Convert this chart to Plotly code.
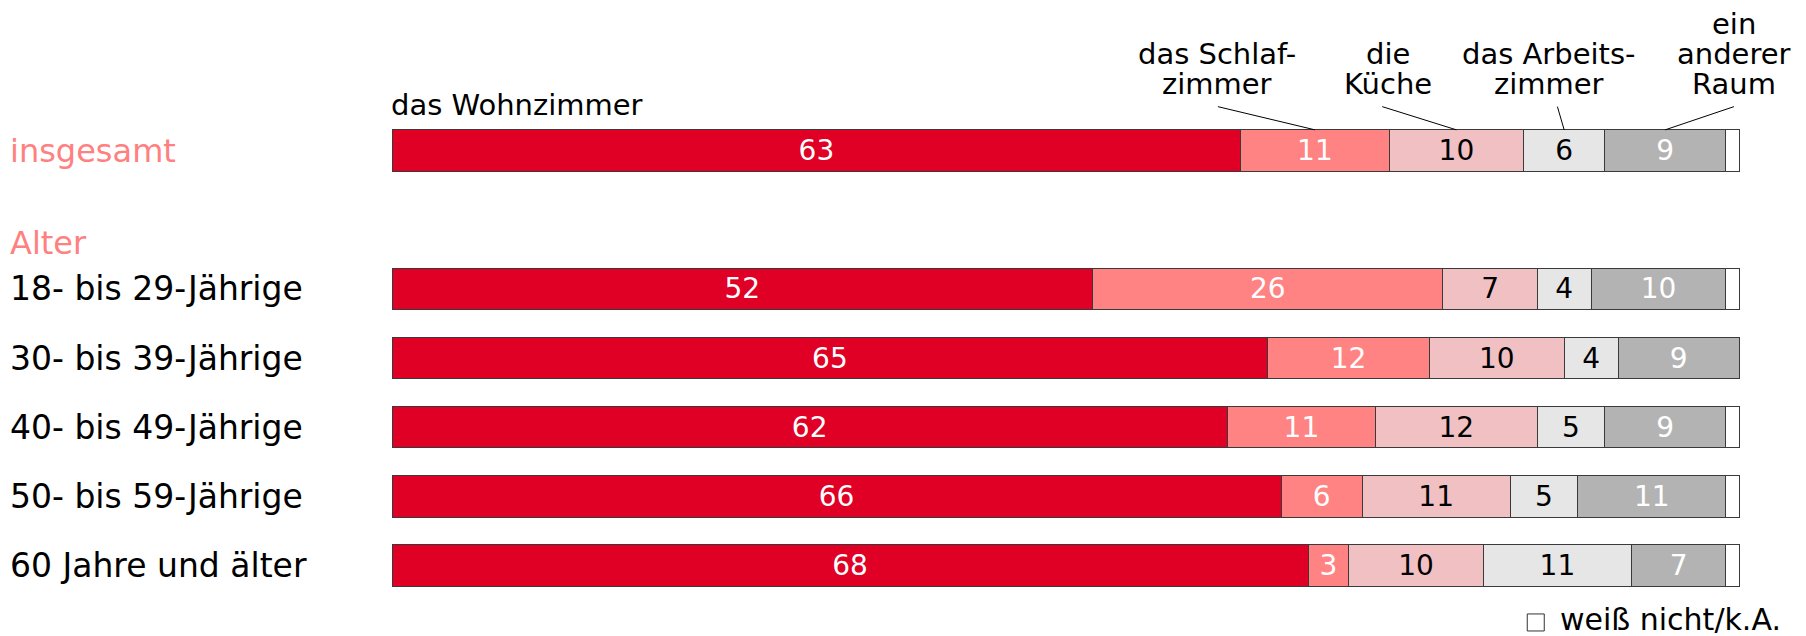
import plotly.graph_objects as go

# ---------------- data ----------------
categories = ["insgesamt", "18- bis 29-Jährige", "30- bis 39-Jährige",
              "40- bis 49-Jährige", "50- bis 59-Jährige", "60 Jahre und älter"]
wohnzimmer   = [63, 52, 65, 62, 66, 68]
schlafzimmer = [11, 26, 12, 11, 6, 3]
kueche       = [10, 7, 10, 12, 11, 10]
arbeitszimmer = [6, 4, 4, 5, 5, 11]
anderer_raum = [9, 10, 9, 9, 11, 7]
weiss_nicht  = [1, 1, 0, 1, 1, 1]

series_names = ["das Wohnzimmer", "das Schlafzimmer", "die Küche",
                "das Arbeitszimmer", "ein anderer Raum", "weiß nicht/k.A."]
header_lines = [["das Wohnzimmer"], ["das Schlaf-", "zimmer"], ["die", "Küche"],
                ["das Arbeits-", "zimmer"], ["ein", "anderer", "Raum"]]
group_label = "Alter"
legend_label = "weiß nicht/k.A."

# ---------------- style ----------------
colors = ["#E00025", "#FF8383", "#F0C0C3", "#E6E6E6", "#B3B3B3", "#FFFFFF"]
text_colors = ["white", "white", "black", "black", "white", "black"]
FONT = "DejaVu Sans"
OFF = 8                       # page body margin
W, H = 1806 - OFF, 636 - OFF
XMAX = 100.2
UNIT = 13.47                  # px per percent
L = 392 - OFF
PW = UNIT * XMAX
R = W - L - PW
T = 116.35 - OFF
PH = 483.7
B = H - T - PH

def py2paper(py):
    return (H - B - (py - OFF)) / PH

def px2paper(px):
    return (px - OFF - L) / PW

ycats = [categories[0], " "] + categories[1:]
all_series = [wohnzimmer, schlafzimmer, kueche, arbeitszimmer, anderer_raum, weiss_nicht]

fig = go.Figure()
for i, (name, vals) in enumerate(zip(series_names, all_series)):
    show_text = i < 5
    fig.add_trace(go.Bar(
        y=categories, x=vals, orientation="h", name=name,
        marker=dict(color=colors[i], line=dict(color="#3a3a3a", width=1)),
        text=[str(v) for v in vals] if show_text else None,
        textposition="inside" if show_text else "none",
        insidetextanchor="middle", textangle=0, constraintext="none",
        insidetextfont=dict(family=FONT, size=28, color=text_colors[i]),
        showlegend=False, hoverinfo="skip",
    ))

annotations = []
shapes = []

# left labels
label_x = px2paper(8)
annotations.append(dict(x=label_x, y=categories[0], xref="paper", yref="y",
                        text=categories[0], showarrow=False, xanchor="left", yanchor="middle",
                        font=dict(family=FONT, size=32, color="#FF8080")))
annotations.append(dict(x=label_x, y=py2paper(243), xref="paper", yref="paper",
                        text=group_label, showarrow=False, xanchor="left", yanchor="middle",
                        font=dict(family=FONT, size=32, color="#FF8080")))
for c in categories[1:]:
    annotations.append(dict(x=label_x, y=c, xref="paper", yref="y", text=c,
                            showarrow=False, xanchor="left", yanchor="middle",
                            font=dict(family=FONT, size=33, color="black")))

# header labels on top of "insgesamt"
annotations.append(dict(x=0, y=py2paper(105), xref="x", yref="paper", xshift=-3,
                        text=header_lines[0][0], showarrow=False, xanchor="left",
                        yanchor="middle", font=dict(family=FONT, size=29, color="black")))
label_cx = [None, 61.2, 73.9, 85.9, 99.6]
line_top_x = [None, 61.3, 73.5, 86.5, 99.6]
line_ys = {2: [54, 84], 3: [24, 54, 84]}
totals_first = [s[0] for s in all_series]
cum = 0
bar_top = 1 - (0.5 - 0.3) / len(ycats)
for i in range(5):
    v = totals_first[i]
    center = cum + v / 2
    cum += v
    if i == 0:
        continue
    lines = header_lines[i]
    for ln, yy in zip(lines, line_ys[len(lines)]):
        annotations.append(dict(x=label_cx[i], y=py2paper(yy), xref="x", yref="paper",
                                text=ln, showarrow=False, xanchor="center", yanchor="middle",
                                font=dict(family=FONT, size=29, color="black")))
    shapes.append(dict(type="line", xref="x", yref="paper",
                       x0=center, y0=bar_top, x1=line_top_x[i], y1=py2paper(107),
                       line=dict(color="black", width=1)))

# legend for "weiß nicht/k.A."
shapes.append(dict(type="rect", xref="paper", yref="paper",
                   x0=px2paper(1527), x1=px2paper(1544), y0=py2paper(631), y1=py2paper(614),
                   line=dict(color="#333333", width=1), fillcolor="white"))
annotations.append(dict(x=px2paper(1558), y=py2paper(620), xref="paper", yref="paper",
                        text=legend_label, showarrow=False, xanchor="left", yanchor="middle",
                        font=dict(family=FONT, size=30, color="black")))

fig.update_layout(
    barmode="stack", bargap=0.4,
    width=W, height=H,
    margin=dict(l=L, r=R, t=T, b=B, pad=0),
    paper_bgcolor="white", plot_bgcolor="white",
    xaxis=dict(range=[0, XMAX], visible=False, fixedrange=True),
    yaxis=dict(type="category", categoryorder="array", categoryarray=ycats,
               range=[len(ycats) - 0.5, -0.5], visible=False, fixedrange=True),
    annotations=annotations, shapes=shapes,
    font=dict(family=FONT),
)

fig.write_html("out.html", config={"displayModeBar": False})
